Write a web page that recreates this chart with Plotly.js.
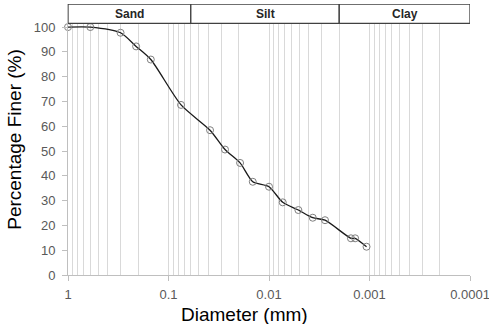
<!DOCTYPE html>
<html>
<head>
<meta charset="utf-8">
<script src="https://cdn.plot.ly/plotly-3.0.1.min.js"></script>
<style>html,body{margin:0;padding:0;background:#fff;}</style>
</head>
<body>
<div id="chart" style="width:489px;height:324px;"></div>
<script>
// Particle size distribution
const diameterMm = [1, 0.6, 0.3, 0.21, 0.15, 0.075, 0.0386, 0.0274, 0.0194, 0.0145, 0.01, 0.0073, 0.0051, 0.00367, 0.00277, 0.00153, 0.00139, 0.00107];
const percentFiner = [100, 100, 97.7, 92.2, 86.9, 68.6, 58.4, 50.6, 45.2, 37.6, 35.6, 29.3, 26.2, 23.1, 22.1, 14.8, 14.8, 11.4];

// Soil classification bands (header)
const zoneNames = ['Sand', 'Silt', 'Clay'];
const zoneBounds = [1, 0.06, 0.002, 0.0001];

// Axis ticks
const xTickVals = [1, 0.1, 0.01, 0.001, 0.0001];
const xTickText = ['1', '0.1', '0.01', '0.001', '0.0001'];
const yTickVals = [0, 10, 20, 30, 40, 50, 60, 70, 80, 90, 100];

const yTop = 109.3;   // room above 100 for the header band
const bandLow = 101.5;

const FONT = 'Liberation Sans, Arial, sans-serif';

const trace = {
  x: diameterMm, y: percentFiner,
  type: 'scatter', mode: 'lines+markers',
  line: {color: '#1a1a1a', width: 1.3, shape: 'spline', smoothing: 0.7},
  marker: {symbol: 'circle-open', size: 7, color: '#7f7f7f', line: {width: 1}},
  cliponaxis: false, hoverinfo: 'skip'
};

const shapes = zoneNames.map((n, i) => ({
  type: 'rect', xref: 'x', yref: 'y',
  x0: zoneBounds[i], x1: zoneBounds[i + 1], y0: bandLow, y1: yTop,
  fillcolor: '#ffffff', line: {color: '#404040', width: 1.3}, layer: 'above'
}));

const annotations = zoneNames.map((n, i) => ({
  xref: 'x', yref: 'y',
  x: Math.log10(Math.sqrt(zoneBounds[i] * zoneBounds[i + 1])),
  y: (bandLow + yTop) / 2,
  text: '<b>' + n + '</b>', showarrow: false,
  font: {family: FONT, size: 12, color: '#262626'}
}));

annotations.push({
  xref: 'paper', yref: 'paper', x: 0.438, y: -0.146,
  xanchor: 'center', yanchor: 'middle', showarrow: false,
  text: 'Diameter (mm)',
  font: {family: FONT, size: 19, color: '#000'}
});

const layout = {
  width: 489, height: 324,
  margin: {l: 68, r: 19, t: 4, b: 49},
  paper_bgcolor: '#fff', plot_bgcolor: '#fff',
  font: {family: FONT},
  showlegend: false,
  xaxis: {
    type: 'log', range: [0.00001, -4.00001],
    tickmode: 'array', tickvals: xTickVals, ticktext: xTickText,
    ticks: 'outside', ticklen: 5, tickcolor: '#bfbfbf',
    showline: true, linecolor: '#bfbfbf', linewidth: 1,
    showgrid: true, gridcolor: '#d9d9d9', gridwidth: 1,
    minor: {dtick: 'D1', showgrid: true, gridcolor: '#d9d9d9', gridwidth: 1, ticks: ''},
    zeroline: false,
    tickfont: {size: 13, color: '#595959'},
    ticklabelstandoff: 2,
    ticklabeloverflow: 'allow'
  },
  yaxis: {
    range: [0, yTop],
    tickmode: 'array', tickvals: yTickVals,
    ticks: 'outside', ticklen: 5, tickcolor: '#bfbfbf',
    showline: true, linecolor: '#bfbfbf', linewidth: 1,
    showgrid: false, zeroline: false,
    tickfont: {size: 13, color: '#595959'},
    ticklabelstandoff: 4,
    title: {text: 'Percentage Finer (%)', font: {size: 19, color: '#000'}, standoff: 7}
  },
  shapes: shapes,
  annotations: annotations
};

Plotly.newPlot('chart', [trace], layout, {displayModeBar: false, staticPlot: true});
</script>
</body>
</html>
